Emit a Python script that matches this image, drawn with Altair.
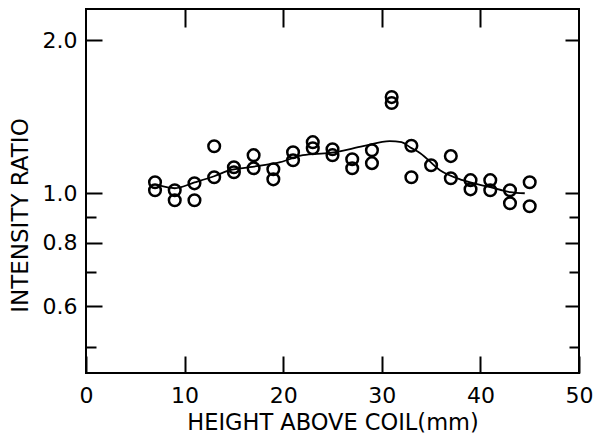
import altair as alt
import pandas as pd

# measured circles (height in mm, intensity ratio)
pt_height = [7, 7, 9, 9, 11, 11, 13, 13, 15, 15, 17, 17, 19, 19, 21, 21, 23, 23,
             25, 25, 27, 27, 29, 29, 31, 31, 33, 33, 35, 37, 37, 39, 39, 41, 41,
             43, 43, 45, 45]
pt_ratio = [1.051, 1.014, 1.014, 0.969, 1.046, 0.969, 1.237, 1.075, 1.125, 1.100,
            1.188, 1.120, 1.115, 1.065, 1.204, 1.161, 1.260, 1.226, 1.220, 1.188,
            1.166, 1.120, 1.215, 1.146, 1.545, 1.504, 1.240, 1.075, 1.135, 1.183,
            1.070, 1.061, 1.018, 1.061, 1.014, 1.014, 0.956, 1.051, 0.943]

# smooth curve
ln_height = [7.3, 9, 11, 13, 14.6, 16.6, 19.7, 22, 24.7, 28.1, 30.8, 32, 32.9,
             33.9, 35.9, 38.2, 41, 43, 44.5]
ln_ratio = [1.037, 1.023, 1.050, 1.080, 1.110, 1.125, 1.151, 1.188, 1.200, 1.237,
            1.266, 1.260, 1.230, 1.199, 1.110, 1.061, 1.028, 1.005, 1.000]

x_labels = [0, 10, 20, 30, 40, 50]
x_top_ticks = [10, 20, 30, 40]
y_major = [0.6, 0.8, 1.0, 2.0]
y_minor = [0.5, 0.7, 0.9]

pts = pd.DataFrame({"h": pt_height, "r": pt_ratio})
ln = pd.DataFrame({"h": ln_height, "r": ln_ratio})

FONT = "DejaVu Sans"
xs = alt.Scale(domain=[0, 50], nice=False, zero=False)
ys = alt.Scale(type="log", domain=[0.4436, 2.301], nice=False)

common = dict(domain=False, grid=False, tickColor="black", tickWidth=2,
              labelFont=FONT, labelColor="black", titleFont=FONT,
              titleColor="black", titleFontWeight="normal")

x_bottom = alt.Axis(orient="bottom", values=x_labels, offset=-17, tickSize=17,
                    labelFontSize=22, labelPadding=29, labelBaseline="alphabetic",
                    labelFlush=False, labelOverlap=False,
                    title="HEIGHT ABOVE COIL(mm)", titleFontSize=22.5,
                    titleBaseline="alphabetic", titleY=73, **common)
x_top = alt.Axis(orient="top", values=x_top_ticks, offset=-18, tickSize=18,
                 labels=False, title=None, **common)
y_left = alt.Axis(orient="left", values=y_major, offset=-16, tickSize=16,
                  format=".1f", labelFontSize=22, labelPadding=9,
                  labelOverlap=False, title="INTENSITY RATIO", titleFontSize=23,
                  titleBaseline="alphabetic", titleAlign="center",
                  titleX=-75, titleY=206, **common)
y_left_minor = alt.Axis(orient="left", values=y_minor, offset=-10, tickSize=10,
                        labels=False, title=None, **common)
y_right = alt.Axis(orient="right", values=y_major, offset=-14, tickSize=14,
                   labels=False, title=None, **common)
y_right_minor = alt.Axis(orient="right", values=y_minor, offset=-10, tickSize=10,
                         labels=False, title=None, **common)

points = alt.Chart(pts).mark_point(
    shape="circle", filled=False, size=135, strokeWidth=2.5,
    color="black", opacity=1
).encode(
    x=alt.X("h:Q", scale=xs, axis=x_bottom),
    y=alt.Y("r:Q", scale=ys, axis=y_left),
)

line = alt.Chart(ln).mark_line(
    interpolate="monotone", color="black", strokeWidth=1.8
).encode(
    x=alt.X("h:Q", scale=xs, axis=x_top),
    y=alt.Y("r:Q", scale=ys, axis=y_right),
)

ghost1 = alt.Chart(ln).mark_line(strokeOpacity=0).encode(
    x=alt.X("h:Q", scale=xs, axis=None),
    y=alt.Y("r:Q", scale=ys, axis=y_left_minor),
)
ghost2 = alt.Chart(ln).mark_line(strokeOpacity=0).encode(
    x=alt.X("h:Q", scale=xs, axis=None),
    y=alt.Y("r:Q", scale=ys, axis=y_right_minor),
)

chart = alt.layer(points, line, ghost1, ghost2).resolve_axis(
    x="independent", y="independent"
).properties(
    width=493, height=364,
    autosize=alt.AutoSizeParams(type="none"),
    padding={"left": 86, "top": 9, "right": 16, "bottom": 67},
    background="white",
).configure_view(stroke="black", strokeWidth=2)

chart.save("out.html", embed_options={"renderer": "svg", "actions": False})
